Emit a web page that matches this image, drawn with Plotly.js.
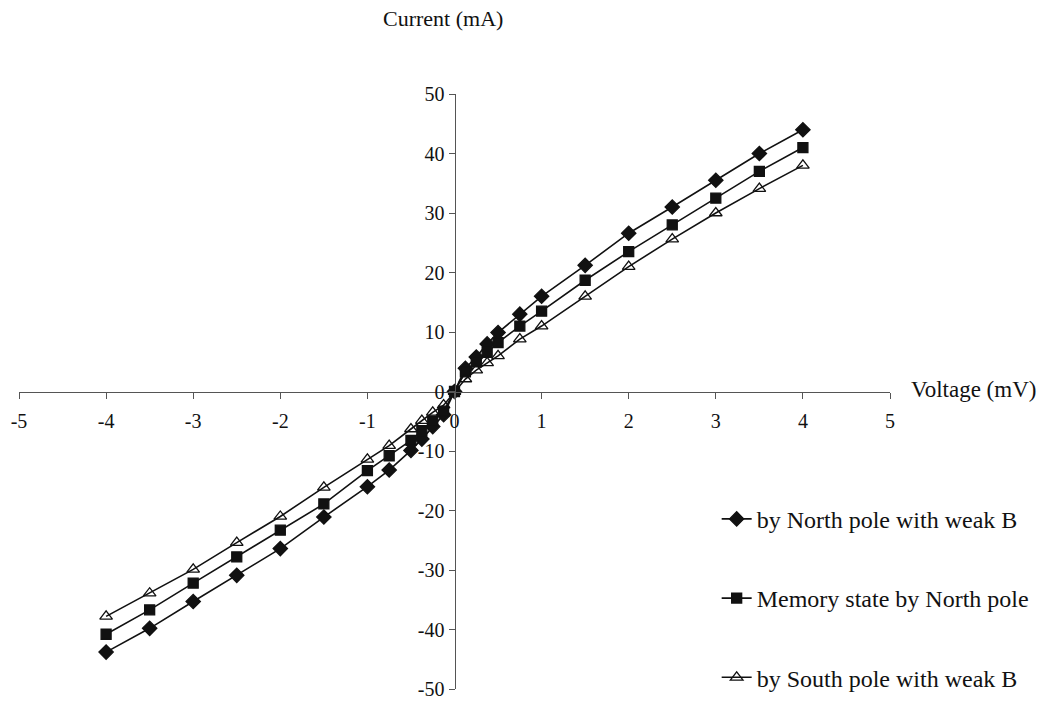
<!DOCTYPE html>
<html>
<head>
<meta charset="utf-8">
<script src="https://cdn.plot.ly/plotly-3.0.1.min.js"></script>
<style>html,body{margin:0;padding:0;background:#fff;}#chart{width:1051px;height:709px;}</style>
</head>
<body>
<div id="chart"></div>
<script>
var voltage = [-4, -3.5, -3, -2.5, -2, -1.5, -1, -0.75, -0.5, -0.375, -0.25, -0.125, 0, 0.125, 0.25, 0.375, 0.5, 0.75, 1, 1.5, 2, 2.5, 3, 3.5, 4];
var northWeak = [-43.8, -39.8, -35.3, -30.9, -26.4, -21.1, -16.0, -13.2, -9.9, -8.0, -5.9, -3.9, 0, 3.9, 5.8, 8.0, 9.9, 13.0, 16.0, 21.2, 26.6, 31.0, 35.5, 40.0, 44.0];
var memoryNorth = [-40.8, -36.7, -32.2, -27.8, -23.3, -18.9, -13.3, -10.8, -8.2, -6.6, -5.0, -3.3, 0, 3.3, 5.0, 6.6, 8.2, 11.0, 13.5, 18.7, 23.5, 28.0, 32.5, 37.0, 41.0];
var southWeak = [-37.8, -33.9, -29.9, -25.4, -21.0, -16.1, -11.4, -9.1, -6.3, -4.9, -3.5, -2.3, 0, 2.1, 3.6, 4.8, 6.0, 8.8, 11.0, 16.0, 21.0, 25.6, 30.0, 34.1, 38.0];
var seriesNames = ["by North pole with weak B", "Memory state by North pole", "by South pole with weak B"];
var xTicks = [-5, -4, -3, -2, -1, 0, 1, 2, 3, 4, 5];
var yTicks = [-50, -40, -30, -20, -10, 0, 10, 20, 30, 40, 50];
var xTitle = "Voltage (mV)";
var yTitle = "Current (mA)";

var serif = "Liberation Serif, Times New Roman, serif";
function mk(y, name, sym, size, grp) {
  return {
    x: voltage, y: y, name: name, type: 'scatter', mode: 'lines+markers',
    legendgroup: grp,
    line: {color: '#111', width: 1.6},
    marker: {symbol: sym, size: size, color: '#111', line: {color: '#111', width: 1.3}}
  };
}
var traces = [
  mk(northWeak, seriesNames[0], 'diamond', 11, 'a'),
  mk(memoryNorth, seriesNames[1], 'square', 10, 'b'),
  mk(southWeak, seriesNames[2], 'triangle-up-open', 11, 'c')
];

var layout = {
  width: 1051, height: 709,
  margin: {l: 19, r: 161, t: 94, b: 9},
  paper_bgcolor: '#fff', plot_bgcolor: 'rgba(0,0,0,0)',
  font: {family: serif, color: '#111', size: 20},
  showlegend: true,
  legend: {
    x: 0.801, y: 0.323, xanchor: 'left', yanchor: 'top',
    traceorder: 'grouped', tracegroupgap: 45,
    font: {family: serif, size: 24, color: '#111'},
    bgcolor: 'rgba(0,0,0,0)'
  },
  xaxis: {
    range: [-5, 5], tickvals: xTicks, ticktext: xTicks.map(String),
    showgrid: false, zeroline: false, showline: true, linecolor: '#555', linewidth: 1,
    ticks: 'outside', ticklen: 6, tickcolor: '#555',
    anchor: 'free', position: 0.5, side: 'bottom',
    tickfont: {family: serif, size: 20, color: '#111'}, ticklabelstandoff: 5
  },
  yaxis: {
    range: [-50, 50], tickvals: yTicks, ticktext: yTicks.map(String),
    showgrid: false, zeroline: false, showline: true, linecolor: '#555', linewidth: 1,
    ticks: 'outside', ticklen: 6, tickcolor: '#555',
    anchor: 'free', position: 0.5, side: 'left',
    tickfont: {family: serif, size: 20, color: '#111'}
  },
  annotations: [
    {text: yTitle, xref: 'paper', yref: 'paper', x: 0.5, y: 1, xshift: -12, yshift: 76, xanchor: 'center', yanchor: 'middle',
     showarrow: false, font: {family: serif, size: 22, color: '#111'}},
    {text: xTitle, xref: 'paper', yref: 'paper', x: 1, y: 0.5, xshift: 19, yshift: 2, xanchor: 'left', yanchor: 'middle',
     showarrow: false, font: {family: serif, size: 23, color: '#111'}}
  ]
};
Plotly.newPlot('chart', traces, layout, {displayModeBar: false, staticPlot: true});
</script>
</body>
</html>
